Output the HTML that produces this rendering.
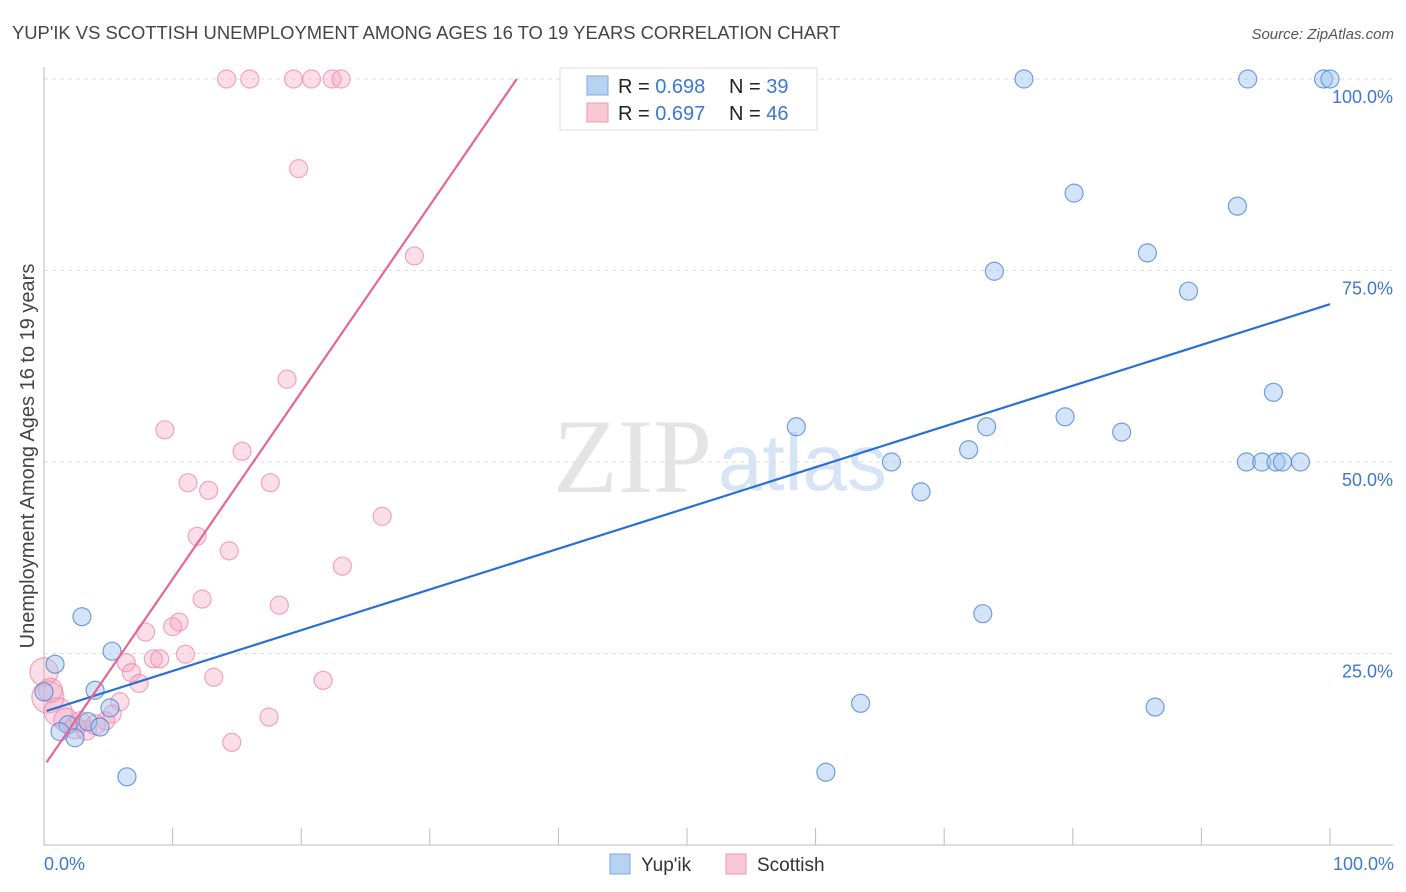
<!DOCTYPE html>
<html><head><meta charset="utf-8">
<style>
body{margin:0;background:#fff;font-family:"Liberation Sans",sans-serif;}
#wrap{position:relative;width:1406px;height:892px;overflow:hidden;}
svg{position:absolute;left:0;top:0;}
</style></head>
<body>
<div id="wrap">
<svg id="chart" width="1406" height="892" xmlns="http://www.w3.org/2000/svg">
<text x="12" y="39" font-size="18.4" fill="#444">YUP'IK VS SCOTTISH UNEMPLOYMENT AMONG AGES 16 TO 19 YEARS CORRELATION CHART</text>
<text x="1394" y="39" font-size="15" fill="#555" text-anchor="end" font-style="italic">Source: ZipAtlas.com</text>
<text x="553" y="492" font-size="106" fill="#e4e4e4" font-family="Liberation Serif,serif">ZIP</text>
<text x="718" y="490" font-size="80" fill="#d6e4f6">atlas</text>
<g id="grid"></g>
<g id="axes"></g>
<g id="marks"></g>
<text transform="translate(34,456) rotate(-90)" font-size="20" fill="#444" text-anchor="middle">Unemployment Among Ages 16 to 19 years</text>
<text x="44" y="870" font-size="18" fill="#3a78d4">0.0%</text>
<text x="1394" y="870" font-size="18" fill="#3a78d4" text-anchor="end">100.0%</text>
<g>
<rect x="560" y="68" width="257" height="62" fill="#fff" stroke="#ddd"/>
<rect x="587" y="76" width="21" height="19" fill="#b8d2f3" stroke="#7fa8e0"/>
<rect x="587" y="103" width="21" height="19" fill="#f9c8d6" stroke="#ef97b3"/>
<text x="618" y="93" font-size="20" fill="#222">R = <tspan fill="#3a78d4">0.698</tspan></text>
<text x="729" y="93" font-size="20" fill="#222">N = <tspan fill="#3a78d4">39</tspan></text>
<text x="618" y="120" font-size="20" fill="#222">R = <tspan fill="#3a78d4">0.697</tspan></text>
<text x="729" y="120" font-size="20" fill="#222">N = <tspan fill="#3a78d4">46</tspan></text>
</g>
<g>
<rect x="610" y="854" width="20" height="20" fill="#b8d2f3" stroke="#7fa8e0"/>
<text x="641" y="871" font-size="19" fill="#333">Yup'ik</text>
<rect x="726" y="854" width="20" height="20" fill="#f9c8d6" stroke="#ef97b3"/>
<text x="757" y="871" font-size="19" fill="#333">Scottish</text>
</g>
</svg>
</div>
<script>
const yTicks=[25,50,75,100];
const yTickLabels=["25.0%","50.0%","75.0%","100.0%"];
const xTicks=[0,10,20,30,40,50,60,70,80,90,100];
const yupikX=[0,0.86,2.95,3.97,5.29,5.13,1.87,2.41,3.42,4.35,6.45,58.5,60.8,63.5,65.9,68.2,71.9,73.0,73.3,73.9,76.2,79.4,80.1,83.8,85.8,86.4,89.0,92.8,93.5,93.6,94.7,95.6,95.8,96.3,97.7,99.5,100,50.1,1.24];
const yupikY=[20.0,23.6,29.8,20.2,25.3,17.9,15.7,14.0,16.1,15.4,8.9,54.6,9.5,18.5,50,46.1,51.6,30.2,54.6,74.9,100,55.9,85.1,53.9,77.3,18.0,72.3,83.4,50,100,50,59.1,50,50,50,100,100,100,14.8];
const scotX=[14.2,16.0,19.4,20.8,22.4,23.1,41.1,19.8,28.8,18.9,9.4,15.4,11.2,12.8,17.6,26.3,11.9,14.4,23.2,12.3,18.3,10.5,10.0,7.9,11.0,8.5,9.0,6.4,6.8,7.4,13.2,21.7,5.9,5.3,4.8,17.5,14.6,0,0.3,1.1,1.7,2.4,3.3,4.0,2.8,0.5];
const scotY=[100,100,100,100,100,100,100,88.3,76.9,60.8,54.2,51.4,47.3,46.3,47.3,42.9,40.3,38.4,36.4,32.1,31.3,29.1,28.5,27.8,24.9,24.3,24.3,23.8,22.5,21.1,21.9,21.5,18.7,17.1,16.2,16.7,13.4,22.6,19.3,17.4,16.3,15.3,15.0,15.7,16.1,20.2];
const scotR=[9,9,9,9,9,9,9,9,9,9,9,9,9,9,9,9,9,9,9,9,9,9,9,9,9,9,9,9,9,9,9,9,9,9,9,9,9,14,16,14,12,11,10,10,10,12];
const yupikTrend=[17.4,70.6];
const scotTrend=[10.3,2.44];
const NS="http://www.w3.org/2000/svg";
const X=v=>44+v*12.86;
const Y=v=>845-v*7.66;
function mk(tag,attrs,parent){const e=document.createElementNS(NS,tag);for(const k in attrs)e.setAttribute(k,attrs[k]);parent.appendChild(e);return e;}
const grid=document.getElementById('grid'),axes=document.getElementById('axes'),marks=document.getElementById('marks');
yTicks.forEach((t,i)=>{
 const l=mk('line',{x1:44,x2:1393,y1:Y(t),y2:Y(t),stroke:'#ddd','stroke-dasharray':'4,4'},grid);
 
 
 const tx=mk('text',{x:1393,y:Y(t)+24,'font-size':18,fill:'#3a78d4','text-anchor':'end'},grid);
 tx.textContent=yTickLabels[i];
 
 
});
let a=mk('line',{x1:44,x2:44,y1:67,y2:845,stroke:'#bbb'},axes);


a=mk('line',{x1:44,x2:1393,y1:845,y2:845,stroke:'#bbb'},axes);


xTicks.forEach(t=>{
 const l=mk('line',{x1:X(t),x2:X(t),y1:828,y2:845,stroke:'#bbb'},axes);
 
 
});
scotX.forEach((v,i)=>{
 const c=mk('circle',{cx:X(v),cy:Y(scotY[i]),r:scotR[i],fill:'rgba(245,160,188,0.35)',stroke:'rgba(236,130,165,0.7)','stroke-width':1.2},marks);
 
 
});
yupikX.forEach((v,i)=>{
 const c=mk('circle',{cx:X(v),cy:Y(yupikY[i]),r:9,fill:'rgba(160,196,240,0.45)',stroke:'rgba(80,135,215,0.8)','stroke-width':1.2},marks);
 
 
});
let tl=mk('line',{x1:X(0.2),y1:Y(yupikTrend[0]+(yupikTrend[1]-yupikTrend[0])*0.002),x2:X(100),y2:Y(yupikTrend[1]),stroke:'#2a6fd6','stroke-width':2.2},marks);


const xe=(100-scotTrend[0])/scotTrend[1];
tl=mk('line',{x1:X(0.2),y1:Y(scotTrend[0]+scotTrend[1]*0.2),x2:X(xe),y2:Y(100),stroke:'#e56690','stroke-width':2.2},marks);


</script>
</body></html>
